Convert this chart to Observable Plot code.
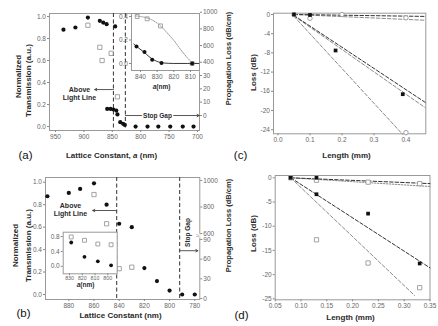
<!DOCTYPE html>
<html><head><meta charset="utf-8">
<script src="https://cdn.jsdelivr.net/npm/d3@7"></script>
<script src="https://cdn.jsdelivr.net/npm/@observablehq/plot@0.6"></script>
<style>
body{margin:0;background:#fff}
#wrap{position:relative;width:438px;height:326px;overflow:hidden;background:#fff}
</style></head><body><div id="wrap"></div>
<script>
// ---------------- DATA ----------------
// Panel (a): lattice constant (nm) vs normalized transmission
const aLattice = [936, 915, 893, 872, 866, 860, 845, 859, 853, 848, 843, 841, 836, 831, 828, 809, 788, 769, 748, 726, 707];
const aTransmission = [0.88, 0.90, 0.99, 0.96, 0.945, 0.93, 0.91, 0.16, 0.16, 0.155, 0.145, 0.11, 0.04, 0.025, 0.015, 0, 0, 0, 0, 0, 0];
const aLossLattice = [893, 872, 868, 852, 841];
const aLossOnLeft = [0.92, 0.72, 0.60, 0.665, 0.27];
const aBoundaries = [848, 827];
const aXTicks = [950, 900, 850, 800, 750, 700];
const aYTicks = [0, 0.2, 0.4, 0.6, 0.8, 1.0];
const aRightTicksLow = [0, 10, 20, 30];
const aRightTicksHigh = [400, 600, 800, 1000];
const aLightArrow = [{from: 848, to: 881, level: 0.336}];
const aGapArrow = [{from: 827, to: 697, level: 0.10}];
// Inset (a)
const aInLattice = [842.4, 837.6, 833, 827.4, 809];
const aInTrans = [0.145, 0.097, 0.031, 0.003, 0.0];
const aInLossLattice = [842, 836, 828, 809];
const aInLoss = [0.40, 0.38, 0.32, 0.0];
const aInCurveTransA = [844, 841, 838, 835, 832, 829, 826, 820, 812, 805];
const aInCurveTrans = [0.165, 0.13, 0.097, 0.06, 0.03, 0.012, 0.004, 0.0, 0.0, 0.0];
const aInCurveLossA = [843, 838, 833, 828, 824, 820, 816, 812, 809, 806];
const aInCurveLoss = [0.405, 0.395, 0.37, 0.32, 0.26, 0.196, 0.12, 0.05, 0.01, 0.0];
const aInXTicks = [840, 830, 820, 810];
const aInYTicks = [0, 0.2, 0.4];

// Panel (b)
const bLattice = [897, 880, 871, 860, 850, 840, 830, 820, 810, 800, 790, 780];
const bTransmission = [0.875, 0.905, 0.94, 0.99, 0.80, 0.63, 0.60, 0.235, 0.12, 0.035, 0.0, 0.0];
const bLossLattice = [860, 850, 840, 830];
const bLossOnLeft = [0.89, 0.63, 0.23, 0.243];
const bBoundaries = [842, 792];
const bXTicks = [880, 860, 840, 820, 800, 780];
const bYTicks = [0, 0.2, 0.4, 0.6, 0.8, 1.0];
const bRightTicksLow = [0, 30, 60, 90];
const bRightTicksHigh = [600, 800, 1000];
const bLightArrow = [{from: 842, to: 861, level: 0.748}];
const bGapArrow = [{from: 792, to: 777.5, level: 0.39}];
// Inset (b)
const bInLattice = [828.7, 818.3, 807.8, 797.4];
const bInTrans = [0.64, 0.255, 0.136, 0.027];
const bInLoss = [0.79, 0.70, 0.60, 0.58];
const bInXTicks = [830, 820, 810, 800];
const bInYTicks = [0, 0.4, 0.8];

// Panel (c): length (mm) vs loss (dB)
const cLenFilled = [0.05, 0.1, 0.18, 0.39];
const cLossFilled = [0, -0.1, -7.5, -16.6];
const cLenOpen = [0.05, 0.1, 0.2, 0.4, 0.4];
const cLossOpen = [0, -0.8, 0, -0.7, -24.6];
const cFitFlatDark = [[0.05, 0], [0.46, -0.4]];
const cFitFlatLight = [[0.05, 0], [0.46, -1.2]];
const cFitSteepDark = [[0.05, -0.2], [0.46, -18.3]];
const cFitSteepLight = [[0.05, -0.3], [0.46, -19.4]];
const cFitSteepest = [[0.05, -0.4], [0.39, -25]];
const cXTicks = [0, 0.1, 0.2, 0.3, 0.4];
const cYTicks = [0, -4, -8, -12, -16, -20, -24];

// Panel (d)
const dLenFilled = [0.08, 0.13, 0.13, 0.23, 0.33];
const dLossFilled = [0, 0, -3.4, -7.4, -17.7];
const dLenOpen = [0.08, 0.13, 0.13, 0.23, 0.23, 0.33, 0.33];
const dLossOpen = [0, -0.5, -12.8, -0.9, -17.6, -1.2, -22.7];
const dFitFlatDark = [[0.08, 0], [0.35, -1.2]];
const dFitFlatLight = [[0.08, 0], [0.35, -1.8]];
const dFitSteep = [[0.08, 0], [0.35, -18.6]];
const dFitSteepest = [[0.08, 0], [0.32, -24.3]];
const dXTicks = [0.05, 0.10, 0.15, 0.20, 0.25, 0.30, 0.35];
const dYTicks = [0, -5, -10, -15, -20, -25];

// ---------------- DRAWING ----------------
const W = 438, H = 326;
const FONT = '"Liberation Sans", Arial, Helvetica, sans-serif';
const wrap = document.getElementById("wrap");

function panel(box, opts) {
  const [l, t, r, b] = box;
  const svg = Plot.plot({
    width: W, height: H,
    marginLeft: l, marginTop: t, marginRight: W - r, marginBottom: H - b,
    style: {background: "transparent", fontFamily: FONT, fontSize: "6.5px", color: "#555",
            position: "absolute", left: "0px", top: "0px", overflow: "visible", maxWidth: "none"},
    ...opts
  });
  wrap.appendChild(svg);
  return svg;
}
function label(box, s, px, py, o = {}) {
  return Plot.text([s], {text: d => d, frameAnchor: "top-left", dx: px - box[0], dy: py - box[1],
    textAnchor: "middle", lineAnchor: "middle", fill: "#2a2a2a", fontWeight: "bold", fontSize: 8, ...o});
}
function italicA(svg) {
  svg.querySelectorAll("text").forEach(t => {
    if (t.textContent === "Lattice Constant, a (nm)") t.innerHTML = 'Lattice Constant, <tspan font-style="italic">a</tspan> (nm)';
    if (t.textContent === "a(nm)") t.innerHTML = '<tspan font-style="italic">a</tspan>(nm)';
  });
}
const ax = {tickSize: 2, tickPadding: 1.5, label: null, stroke: "#888", fill: "#666", fontSize: 6.5};
const f1 = d3.format(".1f"), f2 = d3.format(".2f");
const openSq = {symbol: "square", r: 2.4, stroke: "#9a9a9a", fill: "none", strokeWidth: 0.9};
const blackDot = {r: 2.1, fill: "#111"};
const arrowSt = {stroke: "#444", strokeWidth: 0.9, headLength: 4};

// ----- (a) main -----
const boxA = [49, 13, 199, 130];
italicA(panel(boxA, {
  x: {domain: [960.6, 696.5]},
  y: {domain: [-0.036, 1.027]},
  marks: [
    Plot.frame({stroke: "#999"}),
    Plot.ruleX(aBoundaries, {stroke: "#444", strokeDasharray: "4,2.5", strokeWidth: 1.1}),
    Plot.axisX({...ax, ticks: aXTicks, tickFormat: d => String(d)}),
    Plot.axisY({...ax, ticks: aYTicks, tickFormat: f1}),
    Plot.dot(aLossLattice, {x: aLossLattice, y: aLossOnLeft, ...openSq}),
    Plot.dot(aLattice, {x: aLattice, y: aTransmission, ...blackDot}),
    Plot.arrow(aLightArrow, {x1: "from", x2: "to", y1: "level", y2: "level", ...arrowSt}),
    Plot.arrow(aGapArrow, {x1: "from", x2: "to", y1: "level", y2: "level", ...arrowSt}),
    label(boxA, "Above\nLight Line", 79, 92.5, {fontSize: 7, lineHeight: 1.2}),
    label(boxA, "Stop Gap", 157, 115, {fontSize: 6.5, stroke: "white", strokeWidth: 3}),
    label(boxA, "(a)", 25, 155, {fontSize: 11.5, fontWeight: "normal", fill: "#111"}),
    label(boxA, "Lattice Constant, a (nm)", 111, 155, {fontSize: 8}),
    label(boxA, "Normalized", 18, 76, {rotate: -90}),
    label(boxA, "Transmission (a.u.)", 28, 80, {rotate: -90}),
    label(boxA, "Propagation Loss (dB/cm)", 228, 58, {rotate: -90, fontSize: 7.5})
  ]
}));
// (a) right broken axis: lower and upper segments
panel(boxA, {
  y: {domain: [0, 30], range: [115, 75]},
  marks: [
    Plot.axisY({...ax, anchor: "right", ticks: aRightTicksLow, tickFormat: d => String(d)}),
    Plot.text([35], {y: d => d, frameAnchor: "right", text: () => "//", fill: "#888", fontSize: 6, stroke: "white", strokeWidth: 2})
  ]
});
panel(boxA, {
  y: {domain: [400, 1000], range: [61.7, 11.7]},
  marks: [Plot.axisY({...ax, anchor: "right", ticks: aRightTicksHigh, tickFormat: d => String(d)})]
});
// (a) inset
const boxAI = [131, 13, 199, 70];
italicA(panel(boxAI, {
  x: {domain: [845.4, 804.6]},
  y: {domain: [-0.06, 0.4255]},
  marks: [
    Plot.frame({fill: "white", stroke: "#999"}),
    Plot.axisX({...ax, ticks: aInXTicks, tickFormat: d => String(d)}),
    Plot.axisY({...ax, ticks: aInYTicks, tickFormat: f1}),
    Plot.line(aInCurveLossA, {x: aInCurveLossA, y: aInCurveLoss, curve: "natural", stroke: "#999", strokeDasharray: "1.5,1.2", strokeWidth: 1}),
    Plot.line(aInCurveTransA, {x: aInCurveTransA, y: aInCurveTrans, curve: "monotone-x", stroke: "#222", strokeWidth: 0.9}),
    Plot.dot(aInLossLattice, {x: aInLossLattice, y: aInLoss, ...openSq, r: 2.2}),
    Plot.dot(aInLattice, {x: aInLattice, y: aInTrans, ...blackDot, r: 2}),
    label(boxAI, "a(nm)", 161, 86, {fontSize: 6.5})
  ]
}));

// ----- (b) main -----
const boxB = [45, 177, 199.3, 299];
panel(boxB, {
  x: {domain: [898.5, 776]},
  y: {domain: [-0.0445, 1.042]},
  marks: [
    Plot.frame({stroke: "#999"}),
    Plot.ruleX(bBoundaries, {stroke: "#444", strokeDasharray: "4,2.5", strokeWidth: 1.1}),
    Plot.axisX({...ax, ticks: bXTicks, tickFormat: d => String(d)}),
    Plot.axisY({...ax, ticks: bYTicks, tickFormat: f1}),
    Plot.dot(bLossLattice, {x: bLossLattice, y: bLossOnLeft, ...openSq}),
    Plot.dot(bLattice, {x: bLattice, y: bTransmission, ...blackDot}),
    Plot.arrow(bLightArrow, {x1: "from", x2: "to", y1: "level", y2: "level", ...arrowSt}),
    Plot.arrow(bGapArrow, {x1: "from", x2: "to", y1: "level", y2: "level", ...arrowSt}),
    label(boxB, "Above\nLight Line", 70, 208.5, {fontSize: 7, lineHeight: 1.2}),
    label(boxB, "Stop Gap", 187, 232, {fontSize: 6.5, rotate: -90}),
    label(boxB, "(b)", 23, 313, {fontSize: 11.5, fontWeight: "normal", fill: "#111"}),
    label(boxB, "Lattice Constant (nm)", 120, 315, {fontSize: 8}),
    label(boxB, "Normalized", 15, 245, {rotate: -90}),
    label(boxB, "Transmission (a.u.)", 28, 245, {rotate: -90}),
    label(boxB, "Propagation Loss (dB/cm)", 228, 225, {rotate: -90, fontSize: 7.5})
  ]
});
panel(boxB, {
  y: {domain: [0, 90], range: [298, 239]},
  marks: [
    Plot.axisY({...ax, anchor: "right", ticks: bRightTicksLow, tickFormat: d => String(d)}),
    Plot.text([95], {y: d => d, frameAnchor: "right", text: () => "≈", fill: "#888", fontSize: 7, stroke: "white", strokeWidth: 2})
  ]
});
panel(boxB, {
  y: {domain: [600, 1000], range: [233, 180]},
  marks: [Plot.axisY({...ax, anchor: "right", ticks: bRightTicksHigh, tickFormat: d => String(d)})]
});
const boxBI = [62.7, 231.7, 116.7, 273.3];
italicA(panel(boxBI, {
  x: {domain: [835, 792.6]},
  y: {domain: [-0.2, 0.917]},
  marks: [
    Plot.frame({fill: "white", stroke: "#999"}),
    Plot.axisX({...ax, ticks: bInXTicks, tickFormat: d => String(d), tickPadding: 0.5, fontSize: 5.3}),
    Plot.axisY({...ax, ticks: bInYTicks, tickFormat: f1}),
    Plot.dot(bInLattice, {x: bInLattice, y: bInLoss, ...openSq, r: 2.2}),
    Plot.dot(bInLattice, {x: bInLattice, y: bInTrans, ...blackDot, r: 1.9}),
    label(boxBI, "a(nm)", 85, 284, {fontSize: 6.5})
  ]
}));

// ----- (c) -----
const boxC = [273, 12.7, 425.3, 133.3];
const fitDark = {x: d => d[0], y: d => d[1], stroke: "#333", strokeDasharray: "3.5,2", strokeWidth: 1};
const fitLight = {x: d => d[0], y: d => d[1], stroke: "#8a8a8a", strokeDasharray: "3.5,2", strokeWidth: 1};
panel(boxC, {
  x: {domain: [-0.014, 0.462]},
  y: {domain: [-24.85, 0.27]},
  marks: [
    Plot.frame({stroke: "#999"}),
    Plot.axisX({...ax, ticks: cXTicks, tickFormat: f1}),
    Plot.axisY({...ax, ticks: cYTicks, tickFormat: d => String(d)}),
    Plot.line(cFitFlatLight, fitLight),
    Plot.line(cFitFlatDark, fitDark),
    Plot.line(cFitSteepLight, fitLight),
    Plot.line(cFitSteepDark, fitDark),
    Plot.line(cFitSteepest, fitLight),
    Plot.dot(cLenOpen, {x: cLenOpen, y: cLossOpen, r: 2.2, stroke: "#9a9a9a", fill: "white", strokeWidth: 0.9}),
    Plot.dot(cLenFilled, {x: cLenFilled, y: cLossFilled, symbol: "square", r: 2.1, fill: "#111"}),
    label(boxC, "(c)", 240, 155, {fontSize: 11.5, fontWeight: "normal", fill: "#111"}),
    label(boxC, "Length (mm)", 346, 155, {fontSize: 8}),
    label(boxC, "Loss (dB)", 253, 72, {rotate: -90})
  ]
});

// ----- (d) -----
const boxD = [274.7, 175, 429.5, 299.3];
panel(boxD, {
  x: {domain: [0.05, 0.35]},
  y: {domain: [-25.2, 0.475]},
  marks: [
    Plot.frame({stroke: "#999"}),
    Plot.axisX({...ax, ticks: dXTicks, tickFormat: f2}),
    Plot.axisY({...ax, ticks: dYTicks, tickFormat: d => String(d)}),
    Plot.line(dFitFlatLight, {...fitLight, strokeDasharray: "1.5,1.5"}),
    Plot.line(dFitFlatDark, fitDark),
    Plot.line(dFitSteep, fitDark),
    Plot.line(dFitSteepest, fitLight),
    Plot.dot(dLenOpen, {x: dLenOpen, y: dLossOpen, ...openSq, fill: "white"}),
    Plot.dot(dLenFilled, {x: dLenFilled, y: dLossFilled, symbol: "square", r: 2.1, fill: "#111"}),
    label(boxD, "(d)", 241, 315, {fontSize: 11.5, fontWeight: "normal", fill: "#111"}),
    label(boxD, "Length (mm)", 350, 317, {fontSize: 8}),
    label(boxD, "Loss (dB)", 253, 233, {rotate: -90})
  ]
});
</script></body></html>
